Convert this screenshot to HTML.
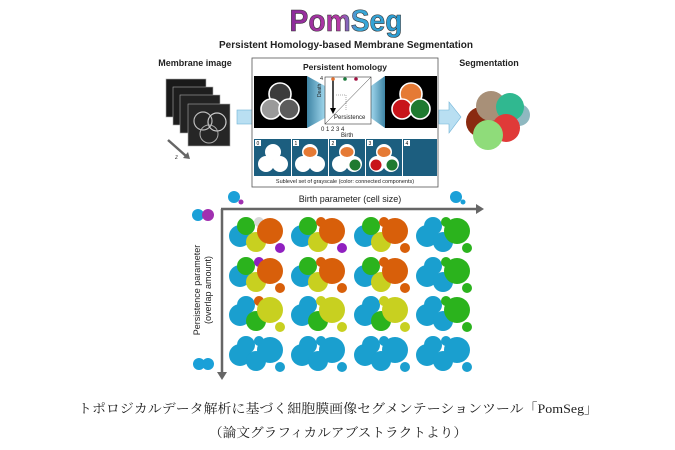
<!DOCTYPE html>
<html><head><meta charset="utf-8"><style>
html,body{margin:0;padding:0;background:#fff;}
svg{display:block;font-family:"Liberation Sans",sans-serif;}
</style></head><body>
<svg width="675" height="450" viewBox="0 0 675 450" xmlns="http://www.w3.org/2000/svg">
<defs>
<linearGradient id="pg" x1="0" x2="1" y1="0" y2="0">
<stop offset="0" stop-color="#8a2b9a"/><stop offset="0.45" stop-color="#b83aa8"/><stop offset="0.6" stop-color="#3aa8d8"/><stop offset="1" stop-color="#2a9ad0"/></linearGradient>
<linearGradient id="wedge" x1="0" x2="1"><stop offset="0" stop-color="#1d6f95"/><stop offset="1" stop-color="#8fd0ea"/></linearGradient>
<linearGradient id="wedge2" x1="1" x2="0"><stop offset="0" stop-color="#1d6f95"/><stop offset="1" stop-color="#8fd0ea"/></linearGradient>
</defs>

<!-- Title -->
<text x="346" y="31" text-anchor="middle" font-size="31" font-weight="bold" fill="url(#pg)" stroke="#333" stroke-width="0.6" textLength="113" lengthAdjust="spacingAndGlyphs">PomSeg</text>
<text x="346" y="48" text-anchor="middle" font-size="10" font-weight="bold" fill="#222">Persistent Homology-based Membrane Segmentation</text>
<text x="195" y="66" text-anchor="middle" font-size="9" font-weight="bold" fill="#222">Membrane image</text>
<text x="489" y="66" text-anchor="middle" font-size="9" font-weight="bold" fill="#222">Segmentation</text>

<!-- image stack -->
<g stroke="#aaa" stroke-width="0.6">
<rect x="166" y="79" width="40" height="38" fill="#1a1a1a"/>
<rect x="173" y="87" width="40" height="38" fill="#1e1e1e"/>
<rect x="180" y="95" width="40" height="38" fill="#222"/>
<rect x="188" y="104" width="42" height="42" fill="#262626"/>
</g>
<circle cx="203" cy="121" r="9" fill="none" stroke="#bbb" stroke-width="1.2"/>
<circle cx="217" cy="122" r="9" fill="none" stroke="#ccc" stroke-width="1.2"/>
<circle cx="209" cy="134" r="9" fill="none" stroke="#aaa" stroke-width="1"/>
<line x1="168" y1="140" x2="186" y2="156" stroke="#666" stroke-width="2.5"/>
<polygon points="183,158 190,159 188,152" fill="#666"/>
<text x="175" y="159" font-size="6" font-style="italic" fill="#444">z</text>

<!-- left arrow -->
<rect x="237" y="110" width="16" height="14" fill="#b9dff2" stroke="#6fb2d6" stroke-width="0.6"/>
<!-- right arrow -->
<polygon points="439,110 449,110 449,102 461,117 449,133 449,124 439,124" fill="#b9dff2" stroke="#6fb2d6" stroke-width="0.6"/>

<!-- central box -->
<rect x="252" y="58" width="186" height="129" fill="#fff" stroke="#555" stroke-width="0.8"/>
<text x="345" y="70" text-anchor="middle" font-size="8.5" font-weight="bold" fill="#222">Persistent homology</text>
<rect x="254" y="76" width="53" height="52" fill="#000"/>
<g stroke="#fff" stroke-width="1.6">
<circle cx="280" cy="94" r="11" fill="#3c3c3c"/>
<circle cx="271" cy="109" r="10" fill="#9a9a9a"/>
<circle cx="289" cy="109" r="10" fill="#5c5c5c"/>
</g>
<polygon points="307,76 325,86 325,118 307,128" fill="url(#wedge)" opacity="0.85"/>
<polygon points="385,76 371,86 371,118 385,128" fill="url(#wedge2)" opacity="0.85"/>
<rect x="325" y="77" width="46" height="47" fill="#fff" stroke="#333" stroke-width="0.6"/>
<line x1="325" y1="124" x2="371" y2="77" stroke="#333" stroke-width="0.5"/>
<line x1="333" y1="80" x2="333" y2="110" stroke="#000" stroke-width="1.4"/>
<polygon points="330,108 336,108 333,114" fill="#000"/>
<polyline points="336,95 346,95 346,110" fill="none" stroke="#333" stroke-width="0.4" stroke-dasharray="1,1"/>
<circle cx="333" cy="79" r="1.8" fill="#e07030"/><circle cx="345" cy="79" r="1.8" fill="#1a7a3a"/><circle cx="356" cy="79" r="1.8" fill="#a01040"/>
<text x="334" y="119" font-size="6" fill="#222">Persistence</text>
<text x="320" y="80" font-size="5.5" fill="#222">4</text>
<text x="321" y="97" font-size="5" fill="#222" transform="rotate(-90 321 97)">Death</text>
<text x="321" y="131" font-size="6" fill="#222">0  1  2  3  4</text>
<text x="341" y="137" font-size="6" fill="#222">Birth</text>
<rect x="385" y="76" width="52" height="52" fill="#000"/>
<g stroke="#fff" stroke-width="1.6">
<circle cx="411" cy="94" r="11" fill="#e57a35"/>
<circle cx="402" cy="109" r="10" fill="#c8141a"/>
<circle cx="420" cy="109" r="10" fill="#1f7a30"/>
</g>

<!-- sublevel squares -->
<g>
<rect x="254" y="139" width="37" height="37" fill="#1c5e7f"/>
<rect x="292" y="139" width="36" height="37" fill="#1c5e7f"/>
<rect x="329" y="139" width="36" height="37" fill="#1c5e7f"/>
<rect x="366" y="139" width="36" height="37" fill="#1c5e7f"/>
<rect x="403" y="139" width="34" height="37" fill="#1c5e7f"/>
</g>
<g fill="#fff">
<circle cx="273" cy="152" r="8"/><circle cx="266" cy="164" r="8"/><circle cx="280" cy="164" r="8"/>
<circle cx="310" cy="152" r="8"/><circle cx="303" cy="164" r="8"/><circle cx="317" cy="164" r="8"/>
<circle cx="347" cy="152" r="8"/><circle cx="340" cy="164" r="8"/><circle cx="354" cy="164" r="8"/>
<circle cx="384" cy="152" r="8"/><circle cx="377" cy="164" r="8"/><circle cx="391" cy="164" r="8"/>
</g>
<ellipse cx="310" cy="152" rx="6.5" ry="5" fill="#e57a35"/>
<ellipse cx="347" cy="152" rx="6.5" ry="5" fill="#e57a35"/>
<circle cx="355" cy="165" r="5.5" fill="#1f7a30"/>
<ellipse cx="384" cy="152" rx="6.5" ry="5" fill="#e57a35"/>
<circle cx="392" cy="165" r="5.5" fill="#1f7a30"/>
<circle cx="376" cy="165" r="5.5" fill="#c8141a"/>
<g font-size="5" fill="#000">
<rect x="255" y="140" width="6" height="6" fill="#fff"/><text x="256.5" y="145">0</text>
<rect x="293" y="140" width="6" height="6" fill="#fff"/><text x="294.5" y="145">1</text>
<rect x="330" y="140" width="6" height="6" fill="#fff"/><text x="331.5" y="145">2</text>
<rect x="367" y="140" width="6" height="6" fill="#fff"/><text x="368.5" y="145">3</text>
<rect x="404" y="140" width="6" height="6" fill="#fff"/><text x="405.5" y="145">4</text>
</g>
<text x="345" y="183" text-anchor="middle" font-size="5.5" fill="#222">Sublevel set of grayscale (color: connected components)</text>

<!-- segmentation ball -->
<circle cx="481" cy="122" r="15" fill="#8a2a10"/>
<circle cx="519" cy="115" r="11" fill="#8fb8c0"/>
<circle cx="491" cy="106" r="15" fill="#a89078"/>
<circle cx="510" cy="107" r="14" fill="#30b890"/>
<circle cx="506" cy="128" r="14" fill="#e03a38"/>
<circle cx="488" cy="135" r="15" fill="#8fdc7a"/>

<!-- grid axes -->
<text x="350" y="202" text-anchor="middle" font-size="9" fill="#222">Birth parameter (cell size)</text>
<circle cx="234" cy="197" r="6" fill="#1aa0d8"/><circle cx="241" cy="202" r="2.5" fill="#a030b0"/>
<circle cx="456" cy="197" r="6" fill="#1aa0d8"/><circle cx="463" cy="202" r="2.5" fill="#1aa0d8"/>
<circle cx="198" cy="215" r="6" fill="#1aa0d8"/><circle cx="208" cy="215" r="6" fill="#a030b0"/>
<circle cx="199" cy="364" r="6" fill="#1aa0d8"/><circle cx="208" cy="364" r="6" fill="#1aa0d8"/>
<line x1="221" y1="209" x2="478" y2="209" stroke="#666" stroke-width="2.5"/>
<polygon points="476,204 484,209 476,214" fill="#666"/>
<line x1="222" y1="209" x2="222" y2="374" stroke="#666" stroke-width="2.5"/>
<polygon points="217,372 222,380 227,372" fill="#666"/>
<text x="200" y="290" text-anchor="middle" font-size="9" fill="#222" transform="rotate(-90 200 290)">Persistence parameter</text>
<text x="211" y="290" text-anchor="middle" font-size="9" fill="#222" transform="rotate(-90 211 290)">(overlap amount)</text>

<g id="cells">
<g transform="translate(228,216)"><circle cx="12" cy="20" r="11" fill="#1a9fcf"/><circle cx="28" cy="26" r="10" fill="#c8d020"/><circle cx="18" cy="10" r="9" fill="#2bb31d"/><circle cx="31" cy="6" r="5" fill="#d8d8d8"/><circle cx="42" cy="15" r="13" fill="#d85f0a"/><circle cx="52" cy="32" r="5" fill="#9020c0"/></g>
<g transform="translate(290,216)"><circle cx="12" cy="20" r="11" fill="#1a9fcf"/><circle cx="28" cy="26" r="10" fill="#c8d020"/><circle cx="18" cy="10" r="9" fill="#2bb31d"/><circle cx="31" cy="6" r="5" fill="#d85f0a"/><circle cx="42" cy="15" r="13" fill="#d85f0a"/><circle cx="52" cy="32" r="5" fill="#9020c0"/></g>
<g transform="translate(353,216)"><circle cx="12" cy="20" r="11" fill="#1a9fcf"/><circle cx="28" cy="26" r="10" fill="#c8d020"/><circle cx="18" cy="10" r="9" fill="#2bb31d"/><circle cx="31" cy="6" r="5" fill="#d85f0a"/><circle cx="42" cy="15" r="13" fill="#d85f0a"/><circle cx="52" cy="32" r="5" fill="#d85f0a"/></g>
<g transform="translate(415,216)"><circle cx="12" cy="20" r="11" fill="#1a9fcf"/><circle cx="28" cy="26" r="10" fill="#1a9fcf"/><circle cx="18" cy="10" r="9" fill="#1a9fcf"/><circle cx="31" cy="6" r="5" fill="#2bb31d"/><circle cx="42" cy="15" r="13" fill="#2bb31d"/><circle cx="52" cy="32" r="5" fill="#2bb31d"/></g>
<g transform="translate(228,256)"><circle cx="12" cy="20" r="11" fill="#1a9fcf"/><circle cx="28" cy="26" r="10" fill="#c8d020"/><circle cx="18" cy="10" r="9" fill="#2bb31d"/><circle cx="31" cy="6" r="5" fill="#9020c0"/><circle cx="42" cy="15" r="13" fill="#d85f0a"/><circle cx="52" cy="32" r="5" fill="#d85f0a"/></g>
<g transform="translate(290,256)"><circle cx="12" cy="20" r="11" fill="#1a9fcf"/><circle cx="28" cy="26" r="10" fill="#c8d020"/><circle cx="18" cy="10" r="9" fill="#2bb31d"/><circle cx="31" cy="6" r="5" fill="#d85f0a"/><circle cx="42" cy="15" r="13" fill="#d85f0a"/><circle cx="52" cy="32" r="5" fill="#d85f0a"/></g>
<g transform="translate(353,256)"><circle cx="12" cy="20" r="11" fill="#1a9fcf"/><circle cx="28" cy="26" r="10" fill="#c8d020"/><circle cx="18" cy="10" r="9" fill="#2bb31d"/><circle cx="31" cy="6" r="5" fill="#d85f0a"/><circle cx="42" cy="15" r="13" fill="#d85f0a"/><circle cx="52" cy="32" r="5" fill="#d85f0a"/></g>
<g transform="translate(415,256)"><circle cx="12" cy="20" r="11" fill="#1a9fcf"/><circle cx="28" cy="26" r="10" fill="#1a9fcf"/><circle cx="18" cy="10" r="9" fill="#1a9fcf"/><circle cx="31" cy="6" r="5" fill="#2bb31d"/><circle cx="42" cy="15" r="13" fill="#2bb31d"/><circle cx="52" cy="32" r="5" fill="#2bb31d"/></g>
<g transform="translate(228,295)"><circle cx="12" cy="20" r="11" fill="#1a9fcf"/><circle cx="28" cy="26" r="10" fill="#2bb31d"/><circle cx="18" cy="10" r="9" fill="#1a9fcf"/><circle cx="31" cy="6" r="5" fill="#d85f0a"/><circle cx="42" cy="15" r="13" fill="#c8d020"/><circle cx="52" cy="32" r="5" fill="#c8d020"/></g>
<g transform="translate(290,295)"><circle cx="12" cy="20" r="11" fill="#1a9fcf"/><circle cx="28" cy="26" r="10" fill="#2bb31d"/><circle cx="18" cy="10" r="9" fill="#1a9fcf"/><circle cx="31" cy="6" r="5" fill="#c8d020"/><circle cx="42" cy="15" r="13" fill="#c8d020"/><circle cx="52" cy="32" r="5" fill="#c8d020"/></g>
<g transform="translate(353,295)"><circle cx="12" cy="20" r="11" fill="#1a9fcf"/><circle cx="28" cy="26" r="10" fill="#2bb31d"/><circle cx="18" cy="10" r="9" fill="#1a9fcf"/><circle cx="31" cy="6" r="5" fill="#c8d020"/><circle cx="42" cy="15" r="13" fill="#c8d020"/><circle cx="52" cy="32" r="5" fill="#c8d020"/></g>
<g transform="translate(415,295)"><circle cx="12" cy="20" r="11" fill="#1a9fcf"/><circle cx="28" cy="26" r="10" fill="#1a9fcf"/><circle cx="18" cy="10" r="9" fill="#1a9fcf"/><circle cx="31" cy="6" r="5" fill="#2bb31d"/><circle cx="42" cy="15" r="13" fill="#2bb31d"/><circle cx="52" cy="32" r="5" fill="#2bb31d"/></g>
<g transform="translate(228,335)" fill="#1a9fcf"><circle cx="12" cy="20" r="11"/><circle cx="28" cy="26" r="10"/><circle cx="18" cy="10" r="9"/><circle cx="31" cy="6" r="5"/><circle cx="42" cy="15" r="13"/><circle cx="52" cy="32" r="5"/></g>
<g transform="translate(290,335)" fill="#1a9fcf"><circle cx="12" cy="20" r="11"/><circle cx="28" cy="26" r="10"/><circle cx="18" cy="10" r="9"/><circle cx="31" cy="6" r="5"/><circle cx="42" cy="15" r="13"/><circle cx="52" cy="32" r="5"/></g>
<g transform="translate(353,335)" fill="#1a9fcf"><circle cx="12" cy="20" r="11"/><circle cx="28" cy="26" r="10"/><circle cx="18" cy="10" r="9"/><circle cx="31" cy="6" r="5"/><circle cx="42" cy="15" r="13"/><circle cx="52" cy="32" r="5"/></g>
<g transform="translate(415,335)" fill="#1a9fcf"><circle cx="12" cy="20" r="11"/><circle cx="28" cy="26" r="10"/><circle cx="18" cy="10" r="9"/><circle cx="31" cy="6" r="5"/><circle cx="42" cy="15" r="13"/><circle cx="52" cy="32" r="5"/></g>
</g>

<text x="338" y="413" text-anchor="middle" font-size="13" fill="#222" font-family="'Liberation Serif','Noto Serif CJK SC',serif" textLength="520" lengthAdjust="spacingAndGlyphs">トポロジカルデータ解析に基づく細胞膜画像セグメンテーションツール「PomSeg」</text>
<text x="338" y="437" text-anchor="middle" font-size="13" fill="#222" font-family="'Liberation Serif','Noto Serif CJK SC',serif" textLength="258" lengthAdjust="spacingAndGlyphs">（論文グラフィカルアブストラクトより）</text>
</svg>
</body></html>
